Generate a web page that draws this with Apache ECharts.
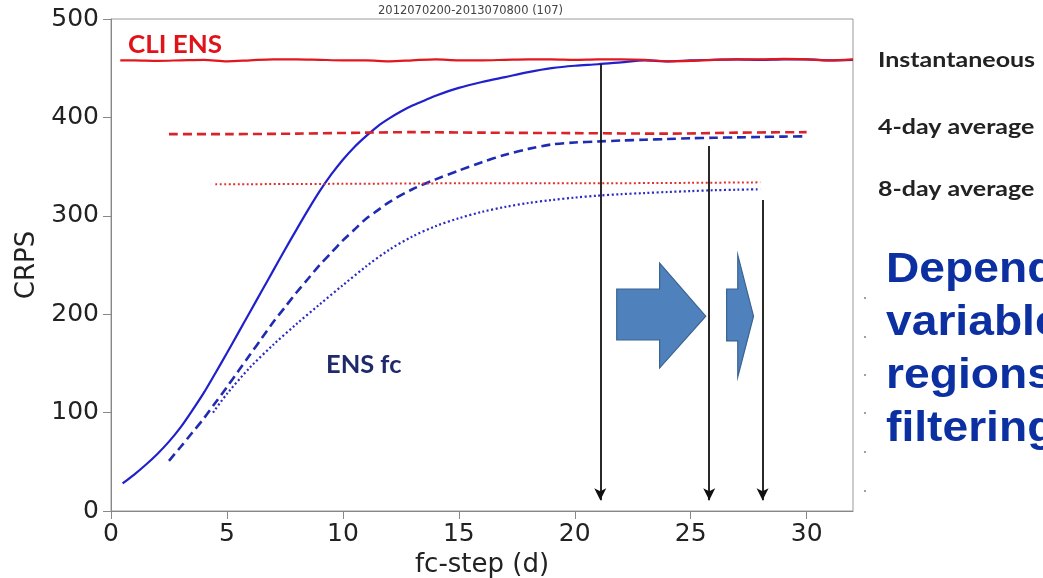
<!DOCTYPE html>
<html>
<head>
<meta charset="utf-8">
<script src="https://cdn.jsdelivr.net/npm/echarts@6/dist/echarts.min.js"></script>
<style>
html,body{margin:0;padding:0;background:#fff;}
#chart{width:1043px;height:578px;}
</style>
</head>
<body>
<div id="chart"></div>
<script>
// ---- data ----
const titleText = '2012070200-2013070800 (107)';
const xTickValues = [0, 5, 10, 15, 20, 25, 30];

const cliInstant = [[0.4,458],[1,458],[2,457.5],[3,458],[4,458.5],[5,457],[6,458],[7,459],[8,459],[9,458.5],[10,458],[11,458],[12,457],[13,458],[14,459],[15,458],[16,458],[17,458.5],[18,459],[19,459],[20,458.5],[21,459],[22,459],[23,458.5],[24,457],[25,457.5],[26,458.5],[27,459],[28,459],[29,459.5],[30,459],[31,458],[32,459]];
const cli4day = [[2.5,383],[5,383],[8,383.5],[11,384.5],[13,385],[16,384.5],[20,384],[24,383.5],[27,384.5],[30,385]];
const cli8day = [[4.5,332],[10,332.5],[15,333],[20,333],[25,333.5],[28,334]];

const ensInstant = [[0.5,28],[1,37],[1.5,47],[2,58],[2.5,70.5],[3,85],[3.5,102],[4,120],[4.5,140],[5,160.5],[5.5,181.5],[6,202.5],[6.5,223.5],[7,244.5],[7.5,265.5],[8,286],[8.5,306],[9,325],[9.5,342],[10,357],[10.5,370],[11,381],[11.5,391],[12,399],[12.5,406],[13,412],[13.5,417],[14,422],[15,430],[16,436],[17,441],[18,446],[19,450],[20,452.5],[21,454],[22,456],[23,458],[24,457],[25,458],[26,458.5],[27,459],[28,458.5],[29,459],[30,459],[31,458],[32,458.5]];
const ens4day = [[2.5,51],[3,65],[3.5,79.5],[4,94],[4.5,110],[5,126],[5.5,142.5],[6,159],[6.5,175.5],[7,192],[7.5,207],[8,222],[8.5,236],[9,250],[9.5,262.5],[10,275],[10.5,286],[11,297],[11.5,305.5],[12,314],[13,327],[14,337],[15,346],[16,354.5],[17,362],[18,368],[19,372.5],[20,374.5],[21,375.5],[22,376.5],[23,377.3],[24,378],[25,378.8],[26,379.3],[27,379.7],[28,380.1],[29,380.5],[30,380.8]];
const ens8day = [[4.4,100],[5,119],[6,146],[7,169],[8,190],[9,210],[10,229.5],[11,248.5],[12,265.5],[13,279],[14,289.5],[15,297.5],[16,304],[17,309],[18,313],[19,316],[20,318.5],[21,320.5],[22,322],[23,323.1],[24,324.2],[25,325.1],[26,326],[27,326.5],[28,327]];

// vertical arrows: [x, yTop, yBottom]
const dropArrows = [[21.1,454,11],[25.8,371,11],[28.1,316,11]];
// block arrows: [xLeft, xHead, xTip, bodyTop, bodyBottom, headTop, headBottom, yCenter]
const blockArrows = [[21.81,23.66,25.65,225.6,173.8,252,145.3,198],[26.55,27.03,27.71,225.6,172.8,260.2,136.2,198]];

const rightLabels = ['Instantaneous', '4-day average', '8-day average'];
const bigTextLines = ['Dependent on', 'variables,', 'regions,', 'filtering'];

// ---- chart ----
const chart = echarts.init(document.getElementById('chart'), null, {renderer:'canvas'});
const axisFont = 'DejaVu Sans';
const RED = '#e3161d', BLUE = '#2020cc';

function lineSeries(name, data, color, width, type, z) {
  return {type: 'line', name: name, data: data, smooth: 0.3, showSymbol: false, silent: true,
          lineStyle: {color: color, width: width, type: type}, z: z};
}

const option = {
  animation: false,
  backgroundColor: '#fff',
  title: {
    text: titleText, left: 373, top: 0,
    textStyle: {fontFamily: axisFont, fontSize: 11.5, fontWeight: 'normal', color: '#444'}
  },
  grid: {left: 111, right: 190, top: 19, bottom: 67, show: true, borderColor: '#9a9a9a', borderWidth: 1,
         containLabel: false, outerBoundsMode: 'none'},
  xAxis: {
    type: 'value', min: 0, max: 32,
    name: 'fc-step (d)', nameLocation: 'middle', nameGap: 37,
    nameTextStyle: {fontFamily: axisFont, fontSize: 26, color: '#222'},
    axisLine: {show: true, lineStyle: {color: '#888', width: 1}},
    axisTick: {show: true, length: 8, lineStyle: {color: '#888'}, customValues: xTickValues},
    axisLabel: {fontFamily: axisFont, fontSize: 25, color: '#222', margin: 11, customValues: xTickValues},
    splitLine: {show: false}
  },
  yAxis: {
    type: 'value', min: 0, max: 500, interval: 100,
    name: 'CRPS', nameLocation: 'middle', nameGap: 59, nameRotate: 90,
    nameTextStyle: {fontFamily: axisFont, fontSize: 26, color: '#222'},
    axisLine: {show: true, lineStyle: {color: '#888', width: 1}},
    axisTick: {show: true, length: 8, lineStyle: {color: '#888'}},
    axisLabel: {fontFamily: axisFont, fontSize: 25, color: '#222', margin: 12},
    splitLine: {show: false}
  },
  series: [
    lineSeries('ENS inst', ensInstant, BLUE, 2.2, 'solid', 3),
    lineSeries('ENS 4d', ens4day, '#1f2bb2', 2.6, [9, 5], 3),
    lineSeries('ENS 8d', ens8day, '#2a2ac4', 2.2, [2, 2.5], 3),
    lineSeries('CLI inst', cliInstant, RED, 2.2, 'solid', 4),
    lineSeries('CLI 4d', cli4day, '#d9232a', 2.6, [9, 5], 4),
    lineSeries('CLI 8d', cli8day, '#e0302f', 2, [2, 2.5], 4),
    {type: 'custom', name: 'block arrows', data: blockArrows, silent: true, z: 5,
     encode: {x: 0, y: 7},
     renderItem: function (params, api) {
       const v = i => api.value(i);
       const c = (x, y) => api.coord([x, y]);
       const pts = [c(v(0), v(3)), c(v(1), v(3)), c(v(1), v(5)), c(v(2), v(7)), c(v(1), v(6)), c(v(1), v(4)), c(v(0), v(4))];
       return {type: 'polygon', shape: {points: pts}, style: {fill: '#4f81bd', stroke: '#3a6391', lineWidth: 1.2}};
     }},
    {type: 'line', name: 'drops', data: [], silent: true, z: 6,
     markLine: {
       silent: true, symbol: ['none', 'arrow'], symbolSize: [9, 12], animation: false,
       label: {show: false},
       lineStyle: {color: '#111', width: 1.8, type: 'solid'},
       emphasis: {disabled: true},
       data: dropArrows.map(a => [{coord: [a[0], a[1]]}, {coord: [a[0], a[2]]}])
     }}
  ],
  graphic: [
    {type: 'text', x: 128, y: 45, scaleX: 1.04, silent: true,
     style: {text: 'CLI ENS', font: 'bold 25px Lato', fill: '#e0131b', verticalAlign: 'middle', align: 'left'}},
    {type: 'text', x: 326, y: 365, scaleX: 1.06, silent: true,
     style: {text: 'ENS fc', font: 'bold 24px Lato', fill: '#1f2a6b', verticalAlign: 'middle', align: 'left'}}
  ].concat(rightLabels.map((t, i) => ({
    type: 'text', x: 878, y: [61, 128, 190][i], scaleX: 1.25, silent: true,
    style: {text: t, font: 'bold 20px Lato', fill: '#222', verticalAlign: 'middle', align: 'left'}
  }))).concat(bigTextLines.map((t, i) => ({
    type: 'text', x: 886, y: 270 + i * 53, scaleX: 1.1, silent: true,
    style: {text: t, font: 'bold 42px "Liberation Sans"', fill: '#0c30a2', verticalAlign: 'middle', align: 'left'}
  }))).concat([298, 337, 375, 413, 452, 491].map(y => ({
    type: 'circle', shape: {cx: 865, cy: y, r: 1.1}, style: {fill: '#888'}, silent: true
  })))
};
chart.setOption(option);
</script>
</body>
</html>
